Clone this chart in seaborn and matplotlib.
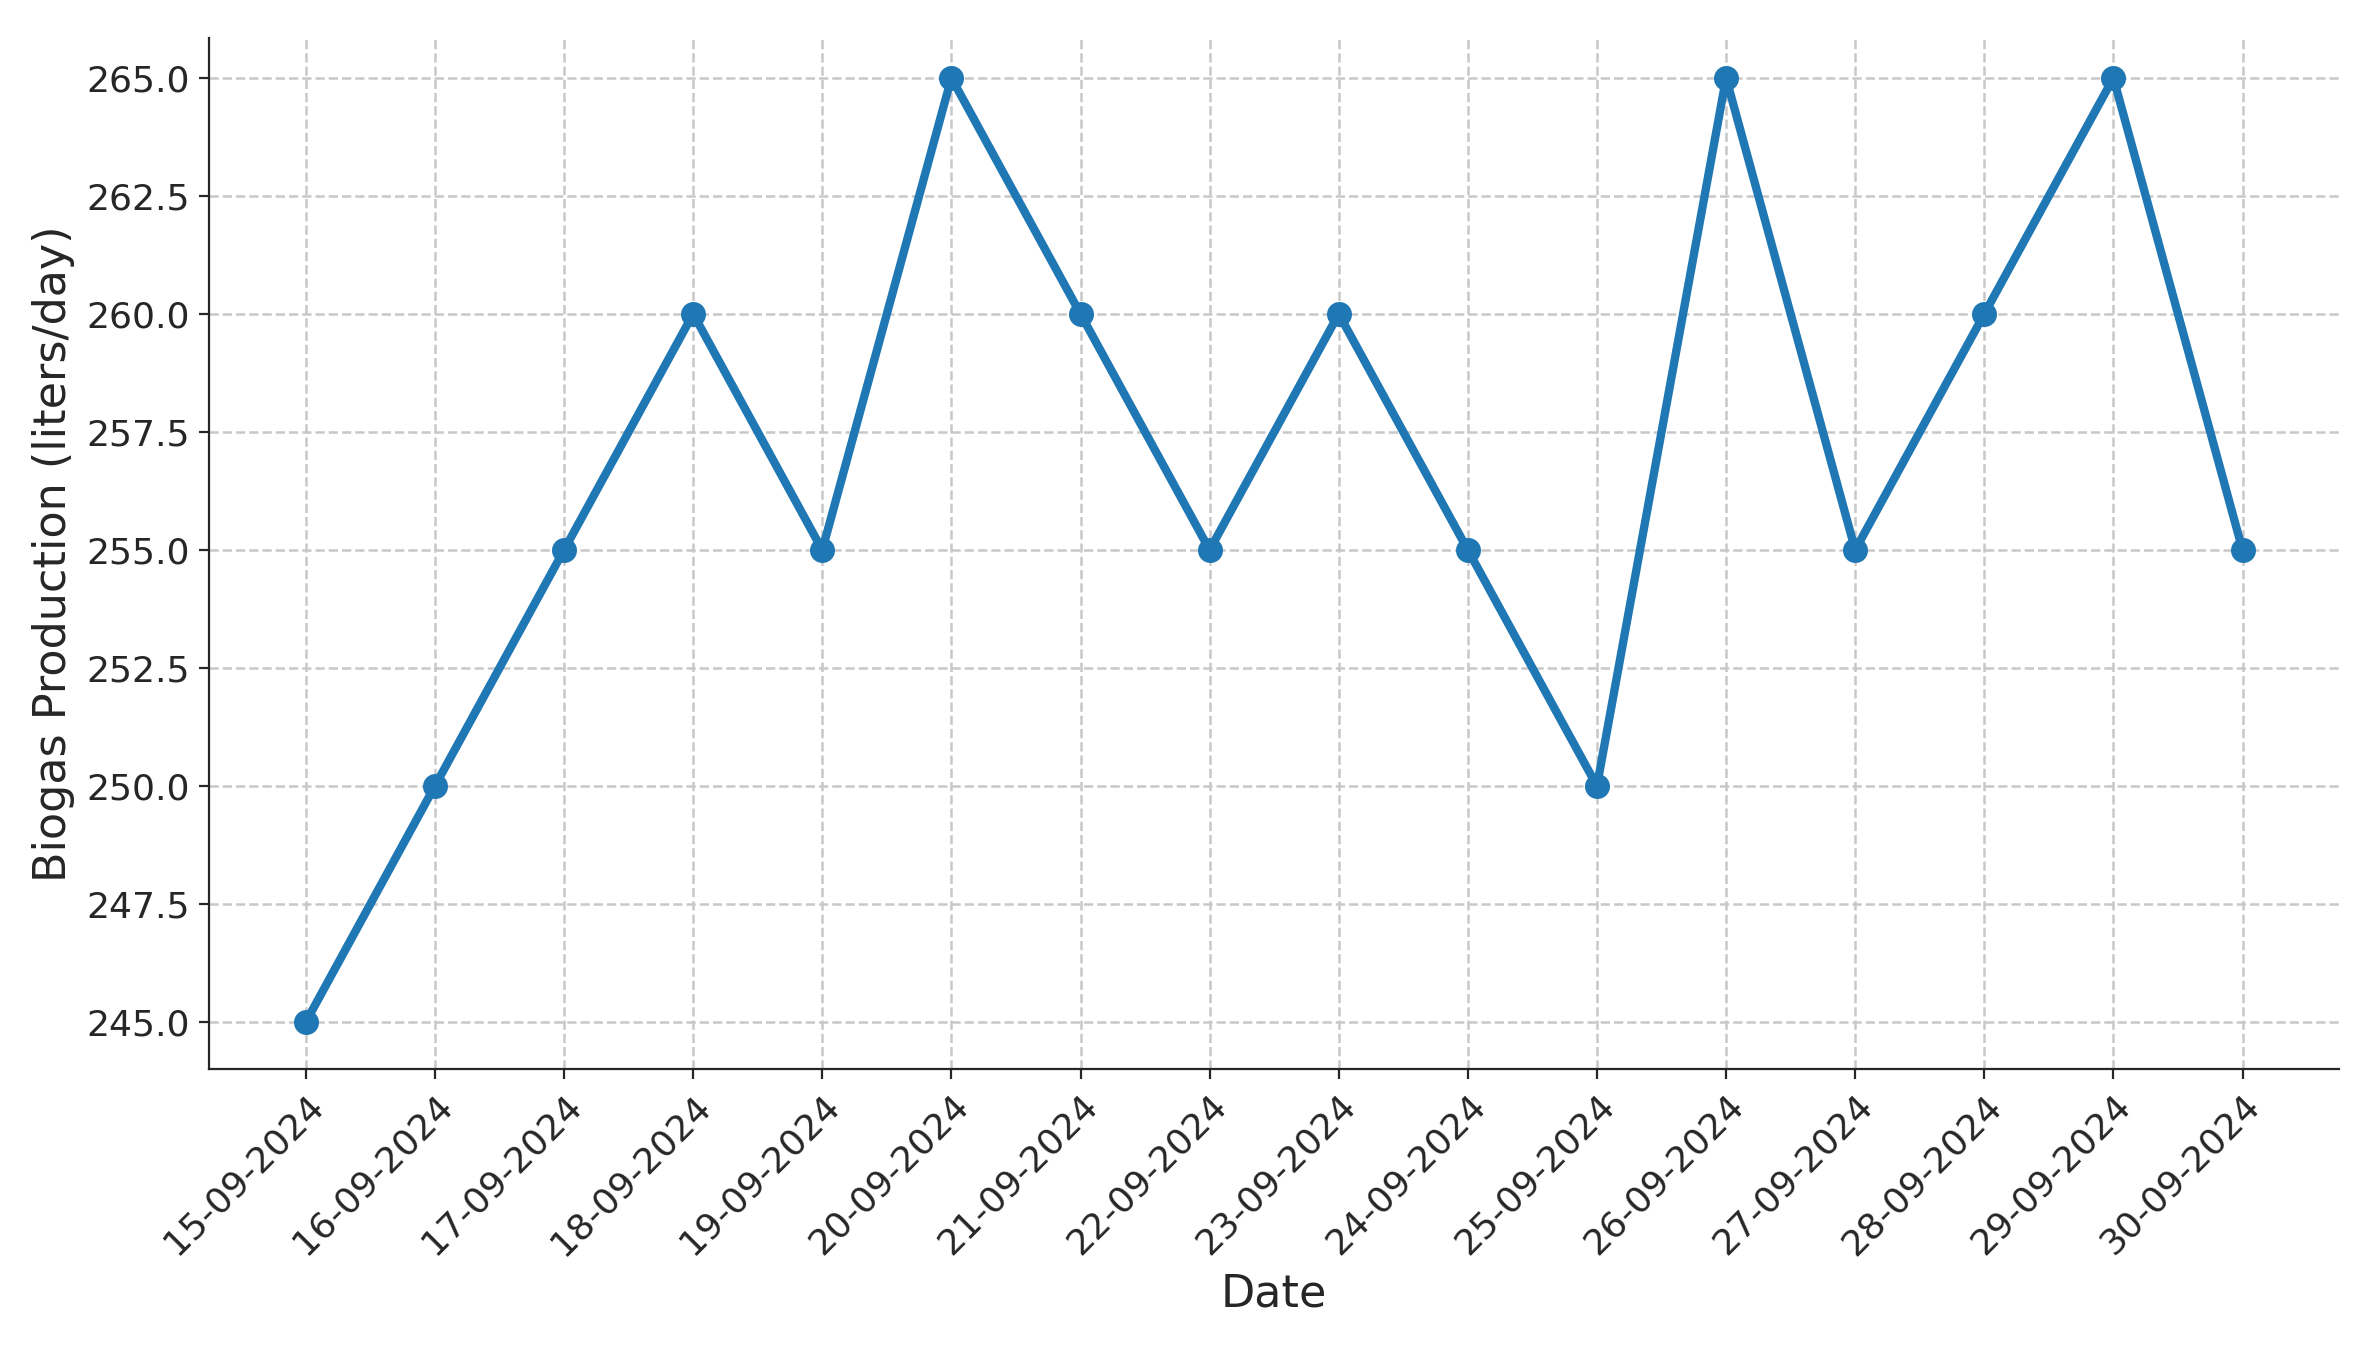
import matplotlib
matplotlib.use('Agg')
import matplotlib.pyplot as plt
import seaborn as sns
import pandas as pd

dates = ['15-09-2024', '16-09-2024', '17-09-2024', '18-09-2024', '19-09-2024',
         '20-09-2024', '21-09-2024', '22-09-2024', '23-09-2024', '24-09-2024',
         '25-09-2024', '26-09-2024', '27-09-2024', '28-09-2024', '29-09-2024',
         '30-09-2024']
biogas = [245, 250, 255, 260, 255, 265, 260, 255, 260, 255, 250, 265, 255, 260, 265, 255]

df = pd.DataFrame({'Date': dates, 'Biogas': biogas})
df['pos'] = range(len(df))

sns.set_style('ticks')
plt.rcParams['font.family'] = ['DejaVu Sans']

fig, ax = plt.subplots(figsize=(11.875, 6.75), dpi=200)
fig.subplots_adjust(left=0.088, right=0.985, top=0.972, bottom=0.208)

sns.lineplot(data=df, x='pos', y='Biogas', marker='o', color='#1f77b4',
             linewidth=3, markersize=9, markeredgewidth=0, ax=ax)

ax.set_xticks(df['pos'])
ax.set_xticklabels(dates, rotation=45, ha='right', rotation_mode='anchor', fontsize=13)
ax.set_yticks([245.0, 247.5, 250.0, 252.5, 255.0, 257.5, 260.0, 262.5, 265.0])
ax.yaxis.set_major_formatter(matplotlib.ticker.FormatStrFormatter('%.1f'))
ax.tick_params(axis='y', labelsize=13)
ax.set_xlim(-0.75, 15.75)
ax.set_ylim(244.0, 265.85)
ax.grid(True, linestyle='--', color='#c8c8c8', linewidth=0.9)
ax.set_xlabel('Date', fontsize=16)
ax.set_ylabel('Biogas Production (liters/day)', fontsize=16)
sns.despine(ax=ax)

fig.savefig('out.png', dpi=200)
